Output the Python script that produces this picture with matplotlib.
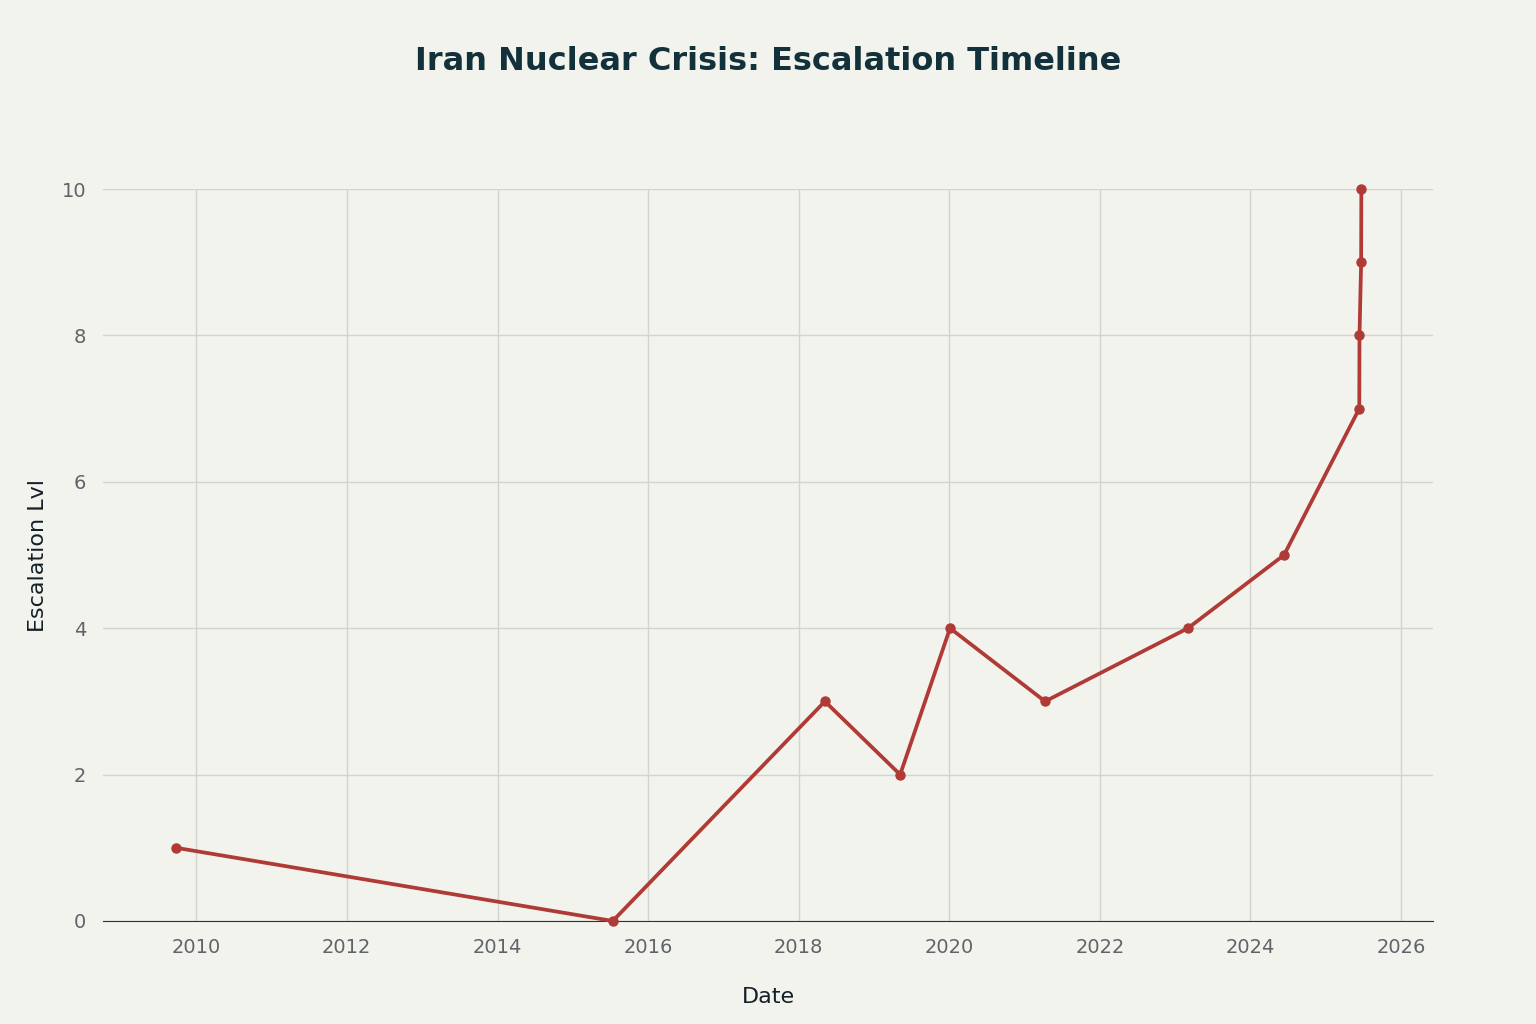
import matplotlib
matplotlib.use("Agg")
import matplotlib.pyplot as plt
import pandas as pd

dates = ["2009-09-25", "2015-07-14", "2018-05-08", "2019-05-08", "2020-01-05",
         "2021-04-10", "2023-03-04", "2024-06-12", "2025-06-12", "2025-06-13",
         "2025-06-21", "2025-06-22"]
levels = [1, 0, 3, 2, 4, 3, 4, 5, 7, 8, 9, 10]
x_ticks = [str(y) for y in range(2010, 2027, 2)]
y_ticks = [0, 2, 4, 6, 8, 10]

bg = "#F3F3EE"
fig = plt.figure(figsize=(15.36, 10.24), dpi=100, facecolor=bg)
ax = fig.add_axes([0.067, 0.1006, 0.866, 0.7148], facecolor=bg)
d = pd.to_datetime(dates)
ax.plot(d, levels, color="#B03A35", lw=2.7, marker="o", ms=6.5, clip_on=False, zorder=3)

ax.set_xlim(pd.Timestamp("2008-10-05"), pd.Timestamp("2026-06-05"))
ax.set_ylim(0, 10)
ax.set_xticks(pd.to_datetime([f"{t}-01-01" for t in x_ticks]))
ax.set_xticklabels(x_ticks)
ax.set_yticks(y_ticks)
ax.grid(True, color="#D3D3CF", lw=1)
for s in ["top", "right", "left"]:
    ax.spines[s].set_visible(False)
ax.spines["bottom"].set_color("#333333")
ax.tick_params(length=0, labelsize=14, colors="#5F6468", pad=12)
ax.set_xlabel("Date", fontsize=16, color="#13202A", labelpad=22)
ax.set_ylabel("Escalation Lvl", fontsize=16, color="#13202A", labelpad=10)
fig.suptitle("Iran Nuclear Crisis: Escalation Timeline", x=0.5, y=0.955,
             fontsize=23, fontweight="bold", color="#13313A")
fig.savefig("out.png", dpi=100, facecolor=bg)
